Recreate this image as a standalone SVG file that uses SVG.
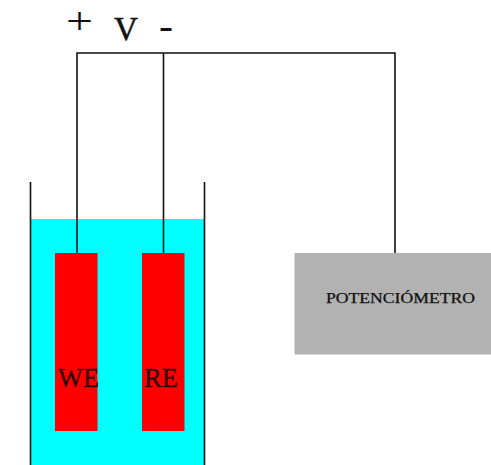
<svg xmlns="http://www.w3.org/2000/svg" width="491" height="465" viewBox="0 0 491 465">
<style>
.w{fill:none;stroke:#111;stroke-width:1.6}
.el{fill:#f00}
text{font-family:"Liberation Serif",serif;fill:#111}
.lab{font-size:27px;fill:#300;stroke:#300;stroke-width:.35}
</style>
<rect width="491" height="465" fill="#fff"/>
<g id="liquid"><rect x="31" y="219" width="173" height="246" fill="#0ff"/></g>
<g id="beaker"><path class="w" d="M30.500 182V465M204.500 182V465"/></g>
<g id="connectors"><path class="w" d="M77 253V53H395V253M163.500 53V253"/></g>
<g id="we"><rect class="el" x="55" y="253" width="42.500" height="178"/><text class="lab" x="58" y="387" textLength="41" lengthAdjust="spacingAndGlyphs">WE</text></g>
<g id="re"><rect class="el" x="142" y="253" width="42.500" height="178"/><text class="lab" x="144" y="387" textLength="34" lengthAdjust="spacingAndGlyphs">RE</text></g>
<g id="potenciometro"><rect x="294.500" y="253" width="196.500" height="101.500" fill="#b2b2b2"/><text x="326" y="303" font-size="14" stroke="#111" stroke-width=".25" textLength="149" lengthAdjust="spacingAndGlyphs">POTENCIÓMETRO</text></g>
<g id="polarity">
<text x="66" y="34" font-size="38" fill="#333" textLength="27" lengthAdjust="spacingAndGlyphs">+</text>
<text x="114" y="40" font-size="33" stroke="#111" stroke-width=".5" textLength="24" lengthAdjust="spacingAndGlyphs">V</text>
<text x="159" y="38" font-size="36" font-weight="bold" textLength="14" lengthAdjust="spacingAndGlyphs">-</text>
</g>
</svg>
